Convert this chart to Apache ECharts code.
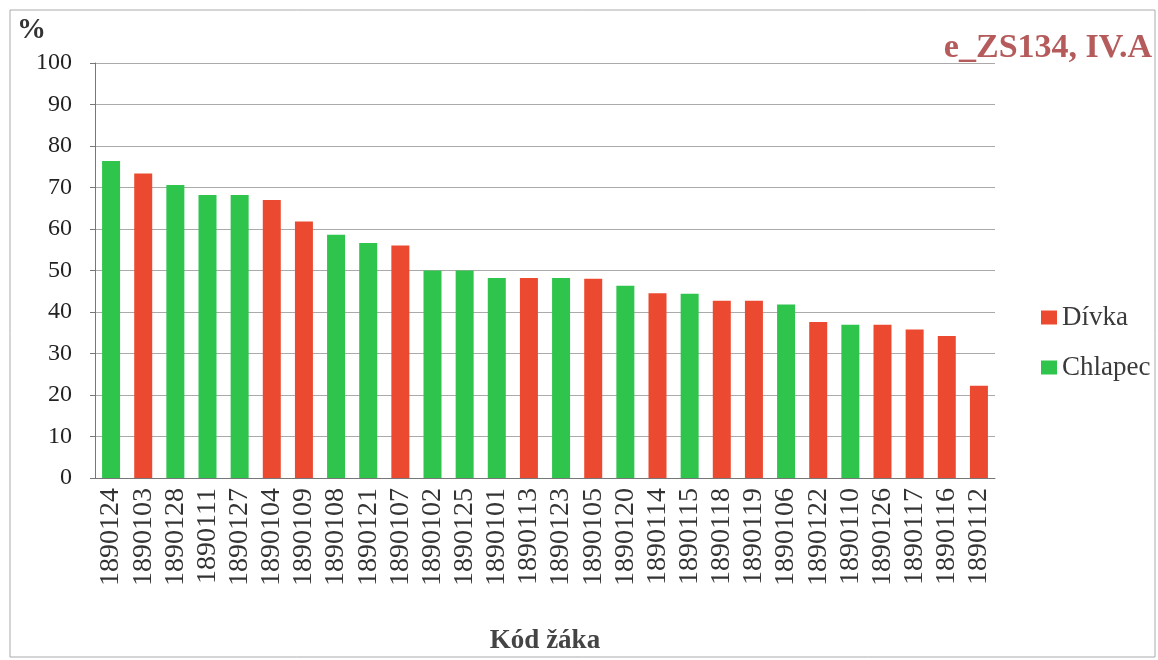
<!DOCTYPE html>
<html>
<head>
<meta charset="utf-8">
<script src="https://cdn.jsdelivr.net/npm/echarts@6/dist/echarts.min.js"></script>
<style>
  html, body { margin: 0; padding: 0; background: #fff; }
  #chart { width: 1158px; height: 660px; }
</style>
</head>
<body>
<div id="chart"></div>
<script>
// kódy žáků, seřazeno podle úspěšnosti
var kody = ['1890124', '1890103', '1890128', '1890111', '1890127', '1890104', '1890109',
  '1890108', '1890121', '1890107', '1890102', '1890125', '1890101', '1890113',
  '1890123', '1890105', '1890120', '1890114', '1890115', '1890118', '1890119',
  '1890106', '1890122', '1890110', '1890126', '1890117', '1890116', '1890112'];
var procenta = [76.4, 73.4, 70.6, 68.2, 68.2, 67.0, 61.8, 58.6, 56.6, 56.0, 50.0, 50.0, 48.2, 48.2,
  48.2, 48.0, 46.3, 44.5, 44.4, 42.7, 42.7, 41.8, 37.6, 36.9, 36.9, 35.8, 34.2, 22.2];
// D = dívka, C = chlapec
var pohlavi = ['C', 'D', 'C', 'C', 'C', 'D', 'D', 'C', 'C', 'D', 'C', 'C', 'C', 'D',
  'C', 'D', 'C', 'D', 'C', 'D', 'D', 'C', 'D', 'C', 'D', 'D', 'D', 'D'];
var yTicks = [0, 10, 20, 30, 40, 50, 60, 70, 80, 90, 100];

var font = '"Liberation Serif", "DejaVu Serif", serif';

var divky = procenta.map(function (v, i) { return pohlavi[i] === 'D' ? v : '-'; });
var chlapci = procenta.map(function (v, i) { return pohlavi[i] === 'C' ? v : '-'; });

var chart = echarts.init(document.getElementById('chart'));
chart.setOption({
  animation: false,
  grid: { left: 95, right: 163, top: 63, bottom: 181 },
  legend: {
    orient: 'vertical',
    left: 1036,
    top: 299,
    itemWidth: 16,
    itemHeight: 14,
    itemGap: 23,
    icon: 'rect',
    textStyle: { fontFamily: font, fontSize: 27, color: '#3a3a3a' },
    data: ['Dívka', 'Chlapec']
  },
  xAxis: {
    type: 'category',
    data: kody,
    axisLine: { lineStyle: { color: '#777', width: 1 } },
    axisTick: { show: false },
    axisLabel: {
      rotate: 90,
      interval: 0,
      margin: 10,
      fontFamily: font,
      fontSize: 28,
      color: '#333'
    },
    name: 'Kód žáka',
    nameLocation: 'middle',
    nameGap: 150,
    nameTextStyle: { fontFamily: font, fontSize: 27, fontWeight: 'bold', color: '#444' }
  },
  yAxis: {
    type: 'value',
    min: 0,
    max: 100,
    interval: 10,
    axisLine: { show: true, lineStyle: { color: '#777', width: 1 } },
    axisTick: { show: true, length: 5, lineStyle: { color: '#777' } },
    splitLine: { lineStyle: { color: '#aaa', width: 1 } },
    axisLabel: {
      margin: 23,
      fontFamily: font,
      fontSize: 24,
      color: '#222',
      formatter: function (v) { return yTicks.indexOf(v) >= 0 ? String(v) : ''; }
    }
  },
  series: [
    {
      name: 'Dívka',
      type: 'bar',
      data: divky,
      barWidth: 18,
      barGap: '-100%',
      itemStyle: { color: '#EC4A30' }
    },
    {
      name: 'Chlapec',
      type: 'bar',
      data: chlapci,
      barWidth: 18,
      barGap: '-100%',
      itemStyle: { color: '#2FC44C' }
    }
  ],
  graphic: [
    {
      type: 'rect',
      shape: { x: 10, y: 10, width: 1145, height: 647 },
      style: { fill: 'none', stroke: '#aaa', lineWidth: 1 },
      silent: true
    },
    {
      type: 'text',
      left: 17,
      top: 16,
      style: { text: '%', font: 'bold 29px ' + font, fill: '#333' }
    },
    {
      type: 'text',
      right: 6,
      top: 31,
      style: { text: 'e_ZS134, IV.A', font: 'bold 34px ' + font, fill: '#B55B5B' }
    }
  ]
});
</script>
</body>
</html>
